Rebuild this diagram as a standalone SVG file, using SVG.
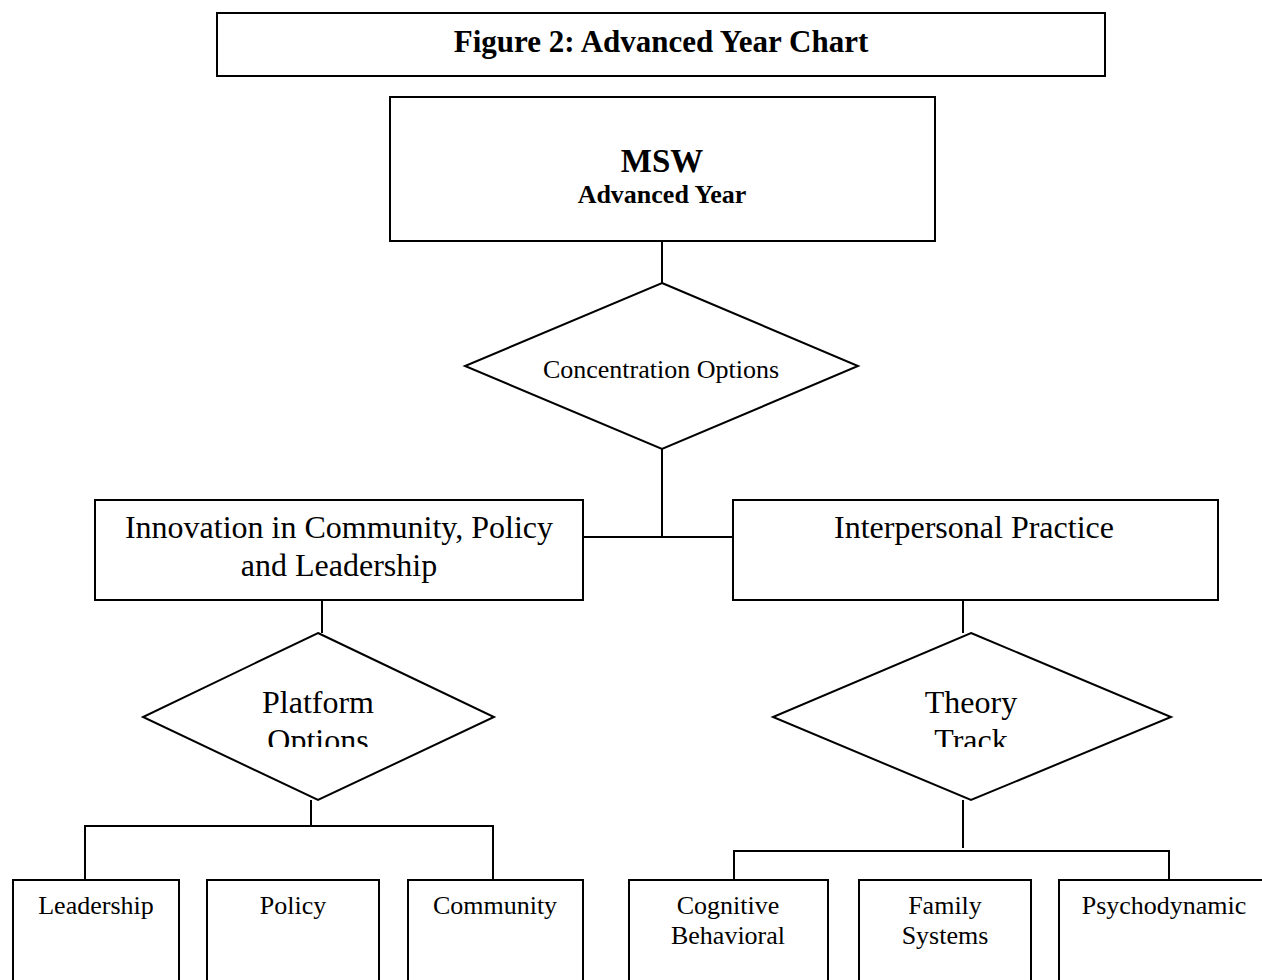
<svg xmlns="http://www.w3.org/2000/svg" width="1262" height="980" viewBox="0 0 1262 980">
<style>
.box{fill:#fff;stroke:#000;stroke-width:2}
.ln{fill:none;stroke:#000;stroke-width:2}
text{font-family:"Liberation Serif","Times New Roman",serif;fill:#000;text-anchor:middle}
.b{font-weight:bold}
</style>
<defs>
<clipPath id="clipP"><rect x="150" y="670" width="340" height="77"/></clipPath>
<clipPath id="clipT"><rect x="780" y="670" width="385" height="77"/></clipPath>
</defs>
<rect width="1262" height="980" fill="#fff"/>
<g id="connectors">
<line class="ln" x1="662" y1="241" x2="662" y2="283"/>
<polyline class="ln" points="662,449 662,537 583,537"/>
<line class="ln" x1="662" y1="537" x2="733" y2="537"/>
<line class="ln" x1="322" y1="600" x2="322" y2="633"/>
<line class="ln" x1="963" y1="600" x2="963" y2="633"/>
<line class="ln" x1="311" y1="800" x2="311" y2="826"/>
<polyline class="ln" points="85,880 85,826 493,826 493,880"/>
<line class="ln" x1="963" y1="800" x2="963" y2="848"/>
<polyline class="ln" points="734,880 734,851 1169,851 1169,880"/>
</g>
<g id="title">
<rect class="box" x="217" y="13" width="888" height="63"/>
<text class="b" x="661" y="52" font-size="31">Figure 2: Advanced Year Chart</text>
</g>
<g id="msw">
<rect class="box" x="390" y="97" width="545" height="144"/>
<text class="b" x="662" y="172" font-size="33">MSW</text>
<text class="b" x="662" y="203" font-size="26">Advanced Year</text>
</g>
<g id="concentration">
<polygon class="box" points="662,283 858,366 662,449 465,366"/>
<text x="661" y="378" font-size="26">Concentration Options</text>
</g>
<g id="innovation">
<rect class="box" x="95" y="500" width="488" height="100"/>
<text x="339" y="538" font-size="32">Innovation in Community, Policy</text>
<text x="339" y="576" font-size="32">and Leadership</text>
</g>
<g id="interpersonal">
<rect class="box" x="733" y="500" width="485" height="100"/>
<text x="974" y="538" font-size="32">Interpersonal Practice</text>
</g>
<g id="platform">
<polygon class="box" points="318,633 494,717 318,800 143,717"/>
<g clip-path="url(#clipP)">
<text x="318" y="713" font-size="32">Platform</text>
<text x="318" y="751" font-size="32">Options</text>
</g>
</g>
<g id="theory">
<polygon class="box" points="971,633 1171,717 971,800 773,717"/>
<g clip-path="url(#clipT)">
<text x="971" y="713" font-size="32">Theory</text>
<text x="971" y="751" font-size="32">Track</text>
</g>
</g>
<g id="leadership">
<rect class="box" x="13" y="880" width="166" height="130"/>
<text x="96" y="914" font-size="26">Leadership</text>
</g>
<g id="policy">
<rect class="box" x="207" y="880" width="172" height="130"/>
<text x="293" y="914" font-size="26">Policy</text>
</g>
<g id="community">
<rect class="box" x="408" y="880" width="175" height="130"/>
<text x="495" y="914" font-size="26">Community</text>
</g>
<g id="cognitive">
<rect class="box" x="629" y="880" width="199" height="130"/>
<text x="728" y="914" font-size="26">Cognitive</text>
<text x="728" y="944" font-size="26">Behavioral</text>
</g>
<g id="family">
<rect class="box" x="859" y="880" width="172" height="130"/>
<text x="945" y="914" font-size="26">Family</text>
<text x="945" y="944" font-size="26">Systems</text>
</g>
<g id="psychodynamic">
<rect class="box" x="1059" y="880" width="215" height="130"/>
<text x="1164" y="914" font-size="26">Psychodynamic</text>
</g>
</svg>
